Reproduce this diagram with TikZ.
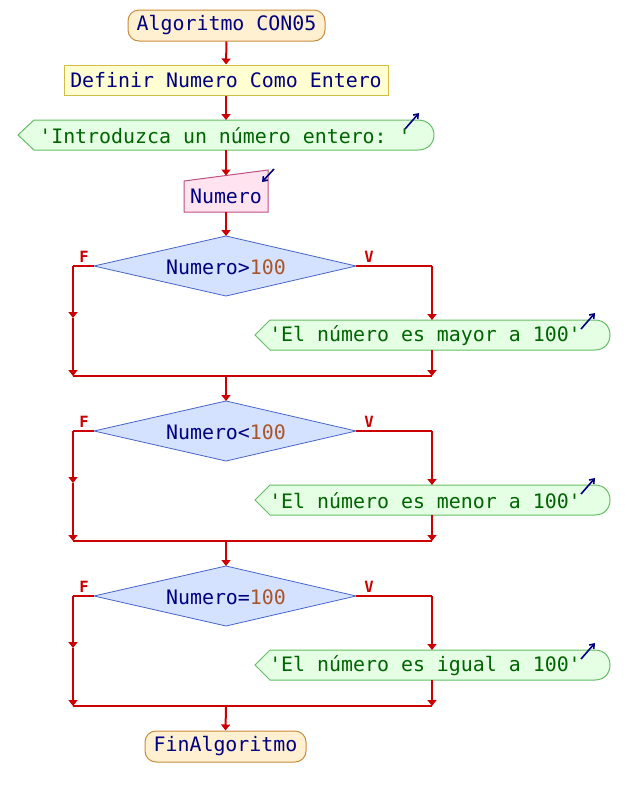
\documentclass[tikz,border=0pt]{standalone}
\usepackage{fontspec}
\setmonofont{DejaVu Sans Mono}
\usetikzlibrary{arrows.meta}
\definecolor{flowred}{RGB}{204,0,0}
\definecolor{navytxt}{RGB}{0,0,128}
\definecolor{greentxt}{RGB}{0,100,0}
\definecolor{numtxt}{RGB}{170,85,40}
\definecolor{termfill}{RGB}{255,240,210}
\definecolor{termdraw}{RGB}{200,140,60}
\definecolor{procfill}{RGB}{255,255,210}
\definecolor{procdraw}{RGB}{210,190,70}
\definecolor{outfill}{RGB}{228,255,228}
\definecolor{outdraw}{RGB}{100,190,100}
\definecolor{infill}{RGB}{255,228,240}
\definecolor{indraw}{RGB}{190,80,130}
\definecolor{decfill}{RGB}{212,226,255}
\definecolor{decdraw}{RGB}{70,100,200}
\begin{document}
\begin{tikzpicture}[x=1pt,y=-1pt,
  txt/.style={font=\ttfamily\fontsize{19.9}{22}\selectfont, text=navytxt, inner sep=0pt},
  otxt/.style={txt, text=greentxt},
  terminal/.style={txt, draw=termdraw, fill=termfill, line width=1pt, rounded corners=11pt},
  procbox/.style={txt, draw=procdraw, fill=procfill, line width=1pt},
  outshape/.style={draw=outdraw, fill=outfill, line width=1pt},
  inshape/.style={draw=indraw, fill=infill, line width=1pt},
  decshape/.style={draw=decdraw, fill=decfill, line width=0.8pt},
  flow/.style={draw=flowred, line width=2pt, -{Triangle[width=9pt,length=6pt]}},
  plain/.style={draw=flowred, line width=2pt},
  icon/.style={draw=navytxt, line width=1.6pt, -{Straight Barb[width=6pt,length=4pt]}},
  branch/.style={font=\ttfamily\bfseries\fontsize{15.5}{16}\selectfont, text=flowred, inner sep=0pt}
]
\useasboundingbox (0,0) rectangle (628,796);

% start
\node[terminal, minimum width=197pt, minimum height=31pt] (start) at (226.5,25.5) {Algoritmo CON05};
% definir
\node[procbox, minimum width=324pt, minimum height=30pt] (def) at (226,80) {Definir Numero Como Entero};
% output 1
\path[outshape] (18,135) -- (34,120) -- (418,120) .. controls (439.3,120) and (439.3,150) .. (418,150) -- (34,150) -- cycle;
\coordinate (o1t) at (226,120);
\coordinate (o1b) at (226,150);
\node[otxt] (o1) at (225,136) {'Introduzca un número entero: '};
\coordinate (i1a) at (405,129);
\coordinate (i1b) at (419,113);
\draw[icon] (i1a) -- (i1b);
% input
\path[inshape] (184,181) -- (268,170) -- (268,212) -- (184,212) -- cycle;
\coordinate (int) at (226,175.5);
\coordinate (inb) at (226,212);
\node[txt] (in) at (226,196) {Numero};
\coordinate (i2a) at (274,169);
\coordinate (i2b) at (262,182);
\draw[icon] (i2a) -- (i2b);

\draw[flow] (start.south) -- (def.north);
\draw[flow] (def.south) -- (o1t);
\draw[flow] (o1b) -- (int);
\coordinate (d0t) at (226,236);
\draw[flow] (inb) -- (d0t);

\foreach \i/\op/\word in {0/>/mayor,1/</menor,2/=/igual}{
  \pgfmathsetmacro{\o}{165*\i}
  \begin{scope}[yshift=-\o pt]
    \coordinate (dT\i) at (226,236);
    \coordinate (dL\i) at (94,266);
    \coordinate (dR\i) at (356,266);
    \coordinate (dB\i) at (226,296);
    \path[decshape] (dT\i) -- (dR\i) -- (dB\i) -- (dL\i) -- cycle;
    \node[txt] (dec\i) at (226,267) {Numero\op\textcolor{numtxt}{100}};
    \node[branch] (f\i) at (84,257) {F};
    \node[branch] (v\i) at (369,257) {V};
    % output
    \path[outshape] (255,335) -- (270,320) -- (595,320) .. controls (615,320) and (615,350) .. (595,350) -- (270,350) -- cycle;
    \node[otxt] (out\i) at (425,336) {'El número es \word\ a 100'};
    \coordinate (ia\i) at (581,329);
    \coordinate (ib\i) at (595,313);
    \draw[icon] (ia\i) -- (ib\i);
    \coordinate (ot\i) at (432,320);
    \coordinate (ob\i) at (432,350);
    \coordinate (lc\i) at (73,266);
    \coordinate (lm\i) at (73,318);
    \coordinate (lj\i) at (73,376);
    \coordinate (rc\i) at (432,266);
    \coordinate (rj\i) at (432,376);
    \coordinate (mj\i) at (226,376);
    \draw[plain] (dL\i) -- (lc\i);
    \draw[flow] (lc\i) -- (lm\i);
    \draw[flow] (lm\i) -- (lj\i);
    \draw[plain] (dR\i) -- (rc\i);
    \draw[flow] (rc\i) -- (ot\i);
    \draw[flow] (ob\i) -- (rj\i);
    \draw[plain] (lj\i) -- (rj\i);
  \end{scope}
}
\draw[flow] (mj0) -- (dT1);
\draw[flow] (mj1) -- (dT2);

% end
\node[terminal, minimum width=161pt, minimum height=31pt] (end) at (225.5,746.5) {FinAlgoritmo};
\draw[flow] (mj2) -- (end.north);
\end{tikzpicture}
\end{document}
